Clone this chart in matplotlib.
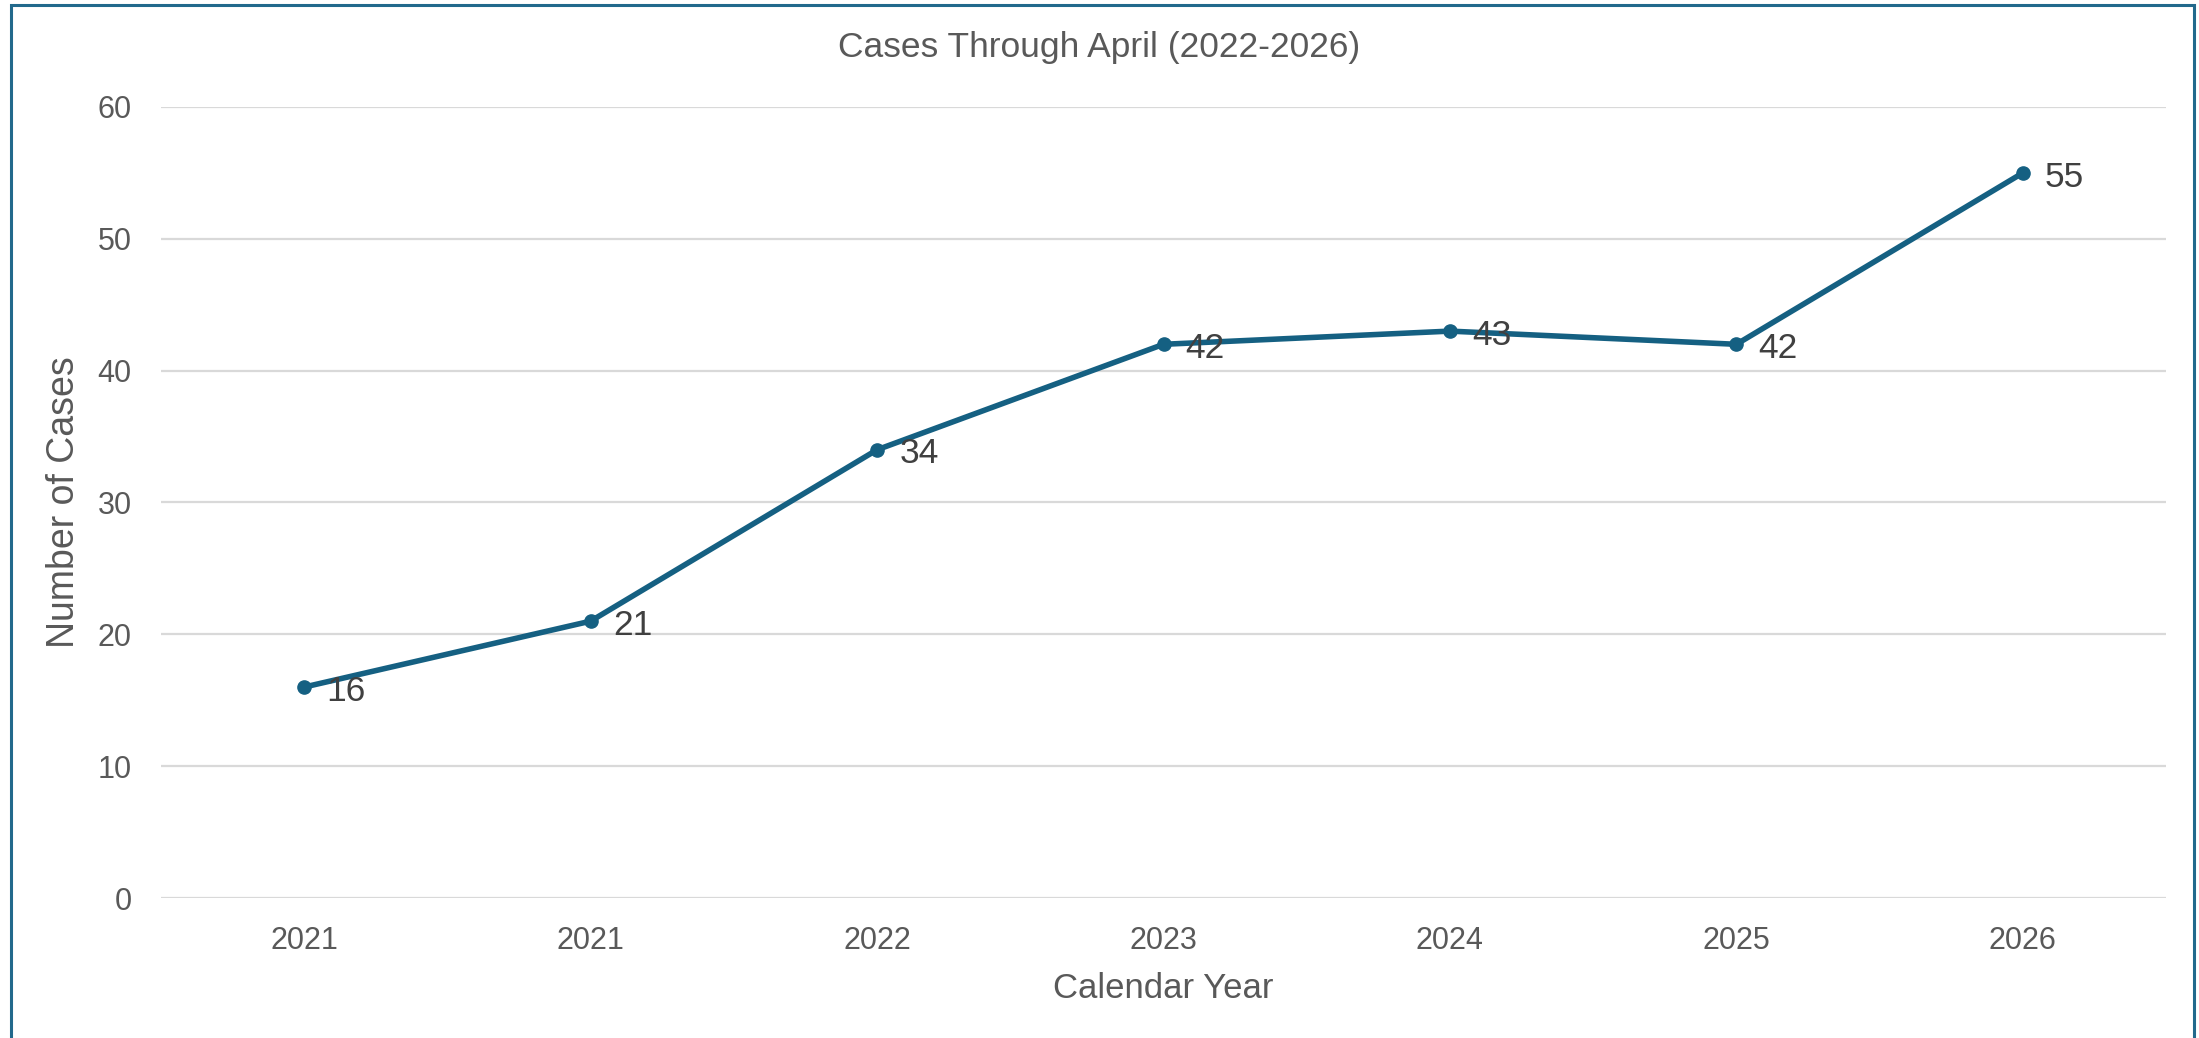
import matplotlib
matplotlib.use("Agg")
import matplotlib.pyplot as plt
from matplotlib.patches import Rectangle

# chart data
years = ["2021", "2021", "2022", "2023", "2024", "2025", "2026"]
cases = [16, 21, 34, 42, 43, 42, 55]
y_ticks = [0, 10, 20, 30, 40, 50, 60]

line_color = "#156082"
text_grey = "#595959"
label_dark = "#404040"

plt.rcParams["font.family"] = ["Liberation Sans", "DejaVu Sans"]

W, H = 2199, 1038
fig = plt.figure(figsize=(W / 100, H / 100), dpi=100)
fig.patch.set_facecolor("white")

# plot area in pixels: left 161, right 2166, top 107, bottom 898
ax = fig.add_axes([161 / W, 1 - 898 / H, (2166 - 161) / W, (898 - 107) / H])

x = list(range(len(years)))
ax.plot(x, cases, color=line_color, lw=4, marker="o", markersize=9.5,
        solid_capstyle="round", zorder=3)

for xi, v in zip(x, cases):
    ax.annotate(str(v), (xi, v), xytext=(16, -3), textcoords="offset points",
                ha="left", va="center", fontsize=25.5, color=label_dark, zorder=4)

ax.set_xlim(-0.5, len(years) - 0.5)
ax.set_ylim(0, 60)
ax.set_xticks(x)
ax.set_xticklabels(years)
ax.set_yticks(y_ticks)
ax.tick_params(axis="both", length=0, labelsize=22, colors=text_grey)
ax.tick_params(axis="x", pad=20)
ax.tick_params(axis="y", pad=21)

ax.grid(axis="y", color="#D9D9D9", lw=1.6)
ax.set_axisbelow(True)
for s in ax.spines.values():
    s.set_visible(False)

ax.set_xlabel("Calendar Year", fontsize=25, color=text_grey, va="center")
ax.xaxis.set_label_coords(0.5, (898 - 988) / (898 - 107))
ax.set_ylabel("Number of Cases", fontsize=27, color=text_grey, va="center")
ax.yaxis.set_label_coords((64 - 161) / (2166 - 161), 0.5)

fig.text(0.5, 1 - 48 / H, "Cases Through April (2022-2026)", ha="center",
         va="center", fontsize=25.5, color=text_grey)

# chart border (bottom edge falls outside the image)
fig.patches.append(Rectangle((11 / W, -0.2), (2194 - 11) / W, 1.2 - 5 / H,
                             transform=fig.transFigure, fill=False,
                             edgecolor="#22698C", lw=2.2))

fig.savefig("out.png", dpi=100)
